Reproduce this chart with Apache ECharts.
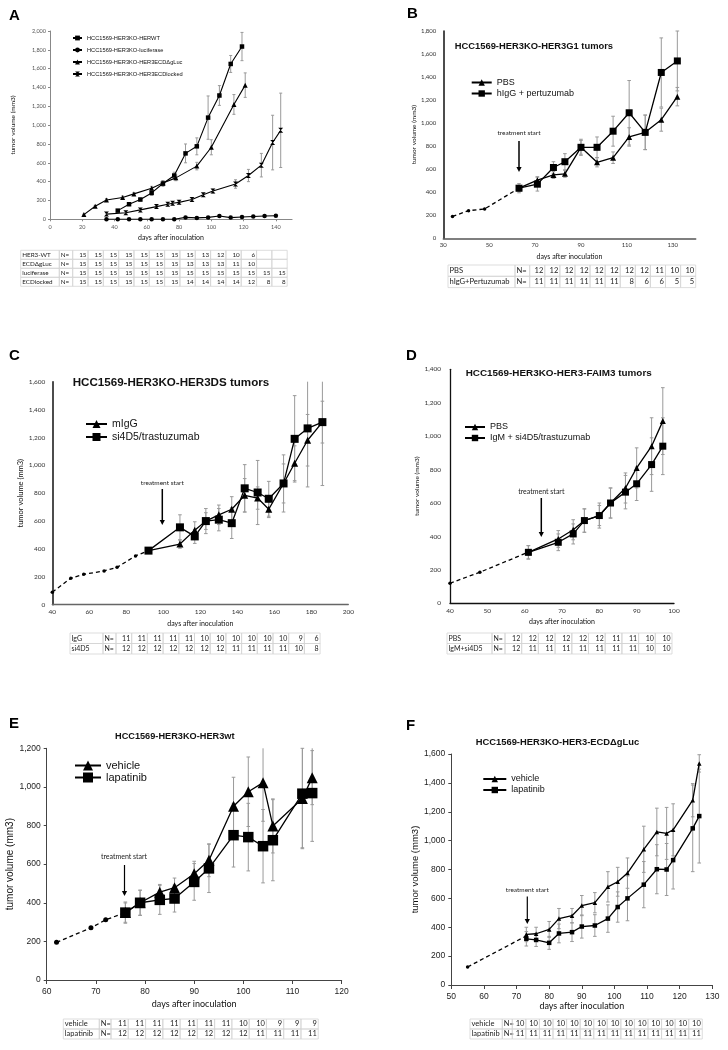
<!DOCTYPE html>
<html><head><meta charset="utf-8">
<script src="https://cdn.jsdelivr.net/npm/echarts@6/dist/echarts.min.js"></script>
<style>html,body{margin:0;padding:0;background:#fff}#c{width:728px;height:1050px}</style>
</head><body><div id="c"></div>
<script>
// ================= DATA =================
// Panel A
const aNames = ['HCC1569-HER3KO-HERWT','HCC1569-HER3KO-luciferase','HCC1569-HER3KO-HER3ECDΔgLuc','HCC1569-HER3KO-HER3ECDlocked'];
const aDaysWT = [42,49,56,63,70,77,84,91,98,105,112,119];
const aWT     = [92,160,210,280,380,465,700,775,1080,1315,1650,1835];
const aWTerr  = [10,15,15,25,30,35,100,90,230,105,90,150];
const aDaysLuc = [35,42,49,56,63,70,77,84,91,98,105,112,119,126,133,140];
const aLuc     = [0,0,0,0,0,0,0,20,15,20,35,18,25,30,35,38];
const aLucErr  = [0,0,0,0,0,0,0,5,5,5,8,5,5,6,6,6];
const aDaysGL = [21,28,35,45,52,63,70,78,91,100,114,121];
const aGL     = [50,138,205,232,270,330,385,440,565,765,1220,1425];
const aGLerr  = [5,10,15,15,15,20,25,30,40,80,105,130];
const aDaysLk = [35,47,56,66,73,76,80,88,95,101,115,123,131,138,143];
const aLk     = [55,70,100,135,160,170,180,210,260,300,375,465,575,815,945];
const aLkErr  = [10,10,10,10,10,10,10,15,15,20,45,65,125,290,395];
const tANames = ['HER3-WT','ECDΔgLuc','luciferase','ECDlocked'];
const tAVals = [
  [15,15,15,15,15,15,15,15,13,12,10,6,'',''],
  [15,15,15,15,15,15,15,13,13,13,11,10,'',''],
  [15,15,15,15,15,15,15,15,15,15,15,15,15,15],
  [15,15,15,15,15,15,15,14,14,14,14,12,8,8]
];
// Panel B
const bNames = ['PBS','hIgG + pertuzumab'];
const bDaysPre = [34,41,48,63];
const bPre     = [190,240,255,435];
const bDays = [63,71,78,83,90,97,104,111,118,125,132];
const bPBS  = [435,505,550,560,790,660,700,880,920,1030,1230];
const bPBSerr = [25,30,30,30,60,40,50,80,150,100,80];
const bIgG  = [435,470,615,665,790,790,930,1090,920,1440,1540];
const bIgGerr = [40,60,50,70,70,90,130,280,150,300,260];
const tBNames = ['PBS','hIgG+Pertuzumab'];
const tBVals = [[12,12,12,12,12,12,12,12,11,10,10],[11,11,11,11,11,11,8,6,6,5,5]];
// Panel C
const cNames = ['mIgG','si4D5/trastuzumab'];
const cDaysPre = [40,50,57,68,75,85,92];
const cPre     = [90,190,218,242,268,350,388];
const cDays = [92,109,117,123,130,137,144,151,157,165,171,178,186];
const cIgG  = [388,435,535,600,645,685,785,765,685,870,1015,1180,1310];
const cIgGerr = [15,30,60,60,70,90,120,80,60,140,125,185,150];
const cSi   = [388,555,490,600,610,585,835,805,760,870,1190,1265,1310];
const cSiErr = [15,90,50,90,80,110,170,230,125,205,310,420,455];
const tCNames = ['IgG','si4D5'];
const tCVals = [[11,11,11,11,11,10,10,10,10,10,10,9,6],[12,12,12,12,12,12,12,11,11,11,11,10,8]];
// Panel D
const dNames = ['PBS','IgM + si4D5/trastuzumab'];
const dDaysPre = [40,48,61];
const dPre     = [120,186,306];
const dDays = [61,69,73,76,80,83,87,90,94,97];
const dPBS  = [305,385,440,495,525,600,690,810,940,1090];
const dPBSerr = [40,50,60,70,75,90,90,120,170,200];
const dIgM  = [305,365,415,495,525,600,665,715,830,940];
const dIgMerr = [40,50,60,70,60,90,100,100,160,170];
const tDNames = ['PBS','IgM+si4D5'];
const tDVals = [[12,12,12,12,12,12,11,11,10,10],[12,11,11,11,11,11,11,11,10,10]];
// Panel E
const eNames = ['vehicle','lapatinib'];
const eDaysPre = [62,69,72,76];
const ePre     = [195,270,312,349];
const eDays = [76,79,83,86,90,93,98,101,104,106,112,114];
const eVeh  = [349,400,455,478,550,620,900,975,1022,798,940,1048];
const eVehErr = [55,65,40,50,65,85,150,180,200,140,260,140];
const eLap  = [349,400,415,422,508,578,750,740,693,724,965,968];
const eLapErr = [50,65,75,70,95,125,165,175,190,210,280,250];
const tENames = ['vehicle','lapatinib'];
const tEVals = [[11,11,11,11,11,11,11,10,10,9,9,9],[12,12,12,12,12,12,12,12,11,11,11,11]];
// Panel F
const fNames = ['vehicle','lapatinib'];
const fDaysPre = [55,73];
const fPre     = [125,340];
const fDays = [73,76,80,83,87,90,94,98,101,104,109,113,116,118,124,126];
const fVeh  = [350,355,385,460,480,550,570,680,715,775,940,1060,1050,1075,1280,1535];
const fVehErr = [50,45,55,70,50,70,70,105,100,105,160,165,180,180,115,60];
const fLap  = [320,312,292,357,366,405,412,460,540,600,695,802,800,865,1085,1170];
const fLapErr = [50,45,45,65,65,80,75,95,105,155,160,170,180,200,300,325];
const tFNames = ['vehicle','lapatinib'];
const tFVals = [[10,10,10,10,10,10,10,10,10,10,10,10,10,10],[11,11,11,11,11,11,11,11,11,11,11,11,11,11]];

// ================= HELPERS =================
const ARIAL = 'Liberation Sans, Arial, sans-serif';
const CAL = 'Lato, Open Sans, sans-serif';
function pts(days, vals){ return days.map((d,i)=>[d, vals[i]]); }
function errData(days, m, e){ return days.map((d,i)=>[d, m[i]-e[i], m[i]+e[i]]); }
function errS(gi, days, m, e, cap){
  return {type:'custom', xAxisIndex:gi, yAxisIndex:gi, silent:true, z:1, animation:false,
    data: errData(days, m, e), encode:{x:0, y:[1,2]},
    renderItem: function(params, api){
      const lo = api.coord([api.value(0), api.value(1)]);
      const hi = api.coord([api.value(0), api.value(2)]);
      const r = params.coordSys;
      const x = lo[0];
      const top = Math.max(hi[1], r.y), bot = Math.min(lo[1], r.y + r.height);
      const st = {stroke:'#9a9a9a', lineWidth:1};
      const ch = [{type:'line', shape:{x1:x,y1:top,x2:x,y2:bot}, style:st}];
      if (hi[1] >= r.y) ch.push({type:'line', shape:{x1:x-cap,y1:top,x2:x+cap,y2:top}, style:st});
      ch.push({type:'line', shape:{x1:x-cap,y1:bot,x2:x+cap,y2:bot}, style:st});
      return {type:'group', children: ch};
    }};
}
function lineS(name, gi, days, vals, symbol, size, w, extra){
  return Object.assign({type:'line', name:name, xAxisIndex:gi, yAxisIndex:gi, data: pts(days, vals),
    symbol:symbol, symbolSize:size, showSymbol:true, z:3, animation:false,
    itemStyle:{color:'#000'}, lineStyle:{color:'#000', width:w}}, extra||{});
}
function preS(gi, days, vals, size){
  return {type:'line', name:'pre'+gi, xAxisIndex:gi, yAxisIndex:gi, data: pts(days, vals), symbol:'circle', symbolSize:size,
    z:2, animation:false, itemStyle:{color:'#000'}, lineStyle:{color:'#000', width:1.3, type:[4,3]}};
}
const CROSS = 'path://M0,0L10,0L0,10L10,10Z';

function xA(gi, min, max, iv, fs, fam, col, lineCol, lw, name, gap, nfs, ticks, hideMax){
  return {type:'value', gridIndex:gi, min:min, max:max, interval:iv,
    name:name, nameLocation:'middle', nameGap:gap, nameTextStyle:{fontSize:nfs, fontFamily:CAL, color:'#111'},
    axisLine:{show:true, lineStyle:{color:lineCol, width:lw}},
    axisTick:{show:ticks>0, length:Math.abs(ticks)||3, inside:false, lineStyle:{color:lineCol}},
    splitLine:{show:false},
    axisLabel:{fontSize:fs, fontFamily:fam, color:col, margin:ticks>0?ticks+3:4, showMaxLabel: !hideMax}};
}
function yA(gi, max, fs, fam, col, lineCol, lw, gap, nfs, nfam, ticks, margin){
  return {type:'value', gridIndex:gi, min:0, max:max, interval:200,
    name:'tumor volume (mm3)', nameLocation:'middle', nameGap:gap, nameTextStyle:{fontSize:nfs, fontFamily:nfam, color:'#111'},
    axisLine:{show:true, lineStyle:{color:lineCol, width:lw}},
    axisTick:{show:ticks>0, length:ticks||3, lineStyle:{color:lineCol}},
    splitLine:{show:false},
    axisLabel:{fontSize:fs, fontFamily:fam, color:col, margin:margin}};
}
function txt(s, x, y, font, align, fill){
  return {type:'text', x:x, y:y, silent:true, style:{text:s, font:font, fill:fill||'#000',
    align:align||'left', verticalAlign:'middle', textAlign:align||'left', textVerticalAlign:'middle'}};
}
function table(x0, top, rowH, nameW, nW, colW, names, vals, fs){
  const els = [];
  const font = fs + 'px ' + CAL;
  const st = {fill:'none', stroke:'#d4d4d4', lineWidth:0.8};
  names.forEach((nm, r)=>{
    const y = top + r*rowH;
    els.push({type:'rect', silent:true, shape:{x:x0, y:y, width:nameW, height:rowH}, style:st});
    els.push(txt(nm, x0+1.5, y+rowH/2, font, 'left', '#222'));
    els.push({type:'rect', silent:true, shape:{x:x0+nameW, y:y, width:nW, height:rowH}, style:st});
    els.push(txt('N=', x0+nameW+1.5, y+rowH/2, font, 'left', '#222'));
    vals[r].forEach((v,c)=>{
      const cx = x0+nameW+nW+c*colW;
      els.push({type:'rect', silent:true, shape:{x:cx, y:y, width:colW, height:rowH}, style:st});
      if (v !== '') els.push(txt(String(v), cx+colW-1.5, y+rowH/2, font, 'right', '#222'));
    });
  });
  return els;
}
function arrow(x, y1, y2, w){
  return [{type:'line', silent:true, shape:{x1:x,y1:y1,x2:x,y2:y2-4}, style:{stroke:'#000', lineWidth:w||1.4}},
    {type:'polygon', silent:true, shape:{points:[[x-2.6,y2-5],[x+2.6,y2-5],[x,y2]]}, style:{fill:'#000'}}];
}

// ================= OPTION =================
const grids = [
  {left:50, top:31, width:242, height:188.3},
  {left:443.3, top:31, width:252.4, height:207.3},
  {left:52.3, top:381.7, width:296, height:223},
  {left:450, top:369.3, width:224, height:234},
  {left:46.7, top:748.3, width:295, height:231.7},
  {left:451.3, top:754, width:261, height:231}
];

const xAxes = [
  xA(0, 0, 150, 20, 5.5, CAL, '#555', '#888', 1.2, 'days after inoculation', 15, 7, 2, true),
  xA(1, 30, 140, 20, 6, CAL, '#333', '#555', 1.5, 'days after inoculation', 15, 7, 0, true),
  xA(2, 40, 200, 20, 6.5, CAL, '#333', '#666', 1.3, 'days after inoculation', 16, 7, 0, false),
  xA(3, 40, 100, 10, 6.5, CAL, '#333', '#111', 1.3, 'days after inoculation', 14.5, 7, 0, false),
  xA(4, 60, 120, 10, 8.5, ARIAL, '#222', '#444', 1, 'days after inoculation', 20, 9, 4, false),
  xA(5, 50, 130, 10, 8.5, ARIAL, '#222', '#444', 1, 'days after inoculation', 15, 9, 4, false)
];
const yAxes = [
  yA(0, 2000, 5.5, CAL, '#555', '#888', 1, 34, 6.5, CAL, 2, 4),
  yA(1, 1800, 6, CAL, '#333', '#111', 1.5, 25, 6.5, CAL, 0, 7),
  yA(2, 1600, 6.5, CAL, '#333', '#111', 1.5, 16, 7.5, CAL, 0, 7),
  yA(3, 1400, 6.5, CAL, '#333', '#111', 1.3, 30, 6.5, CAL, 0, 9),
  yA(4, 1200, 8.5, ARIAL, '#222', '#444', 1, 31, 10, ARIAL, 3, 6),
  yA(5, 1600, 8.5, ARIAL, '#222', '#444', 1, 31, 9.5, ARIAL, 3, 6)
];

const series = [
  // A
  errS(0, aDaysWT, aWT, aWTerr, 1.5), errS(0, aDaysLuc, aLuc, aLucErr, 1.5),
  errS(0, aDaysGL, aGL, aGLerr, 1.5), errS(0, aDaysLk, aLk, aLkErr, 1.5),
  lineS(aNames[0], 0, aDaysWT, aWT, 'rect', 4.5, 1.1),
  lineS(aNames[1], 0, aDaysLuc, aLuc, 'circle', 4.5, 1.1),
  lineS(aNames[2], 0, aDaysGL, aGL, 'triangle', 5, 1.1),
  lineS(aNames[3], 0, aDaysLk, aLk, CROSS, 5, 1.1),
  // B
  preS(1, bDaysPre, bPre, 3.5),
  errS(1, bDays, bPBS, bPBSerr, 1.8), errS(1, bDays, bIgG, bIgGerr, 1.8),
  lineS(bNames[0], 1, bDays, bPBS, 'triangle', 6, 1.3),
  lineS(bNames[1], 1, bDays, bIgG, 'rect', 7, 1.3),
  // C
  preS(2, cDaysPre, cPre, 3.5),
  errS(2, cDays, cIgG, cIgGerr, 1.8), errS(2, cDays, cSi, cSiErr, 1.8),
  lineS(cNames[0], 2, cDays, cIgG, 'triangle', 7, 1.3),
  lineS(cNames[1], 2, cDays, cSi, 'rect', 8, 1.3),
  // D
  preS(3, dDaysPre, dPre, 3.5),
  errS(3, dDays, dPBS, dPBSerr, 1.8), errS(3, dDays, dIgM, dIgMerr, 1.8),
  lineS(dNames[0], 3, dDays, dPBS, 'triangle', 6, 1.3),
  lineS(dNames[1], 3, dDays, dIgM, 'rect', 7, 1.3),
  // E
  preS(4, eDaysPre, ePre, 5),
  errS(4, eDays, eVeh, eVehErr, 1.8), errS(4, eDays, eLap, eLapErr, 1.8),
  lineS(eNames[0], 4, eDays, eVeh, 'triangle', 11, 1.3),
  lineS(eNames[1], 4, eDays, eLap, 'rect', 10.5, 1.3),
  // F
  preS(5, fDaysPre, fPre, 3.5),
  errS(5, fDays, fVeh, fVehErr, 1.8), errS(5, fDays, fLap, fLapErr, 1.8),
  lineS(fNames[0], 5, fDays, fVeh, 'triangle', 4.5, 1.3),
  lineS(fNames[1], 5, fDays, fLap, 'rect', 4.5, 1.3)
];

const legends = [
  {data: aNames, left:72, top:34.5, orient:'vertical', itemWidth:9, itemHeight:6, itemGap:5,
   textStyle:{fontSize:5.7, fontFamily:ARIAL, color:'#111', lineHeight:7}},
  {data: bNames, left:470.7, top:78, orient:'vertical', itemWidth:20, itemHeight:8, itemGap:2,
   textStyle:{fontSize:9, fontFamily:ARIAL, color:'#111', lineHeight:9}},
  {data: cNames, left:85, top:418.5, orient:'vertical', itemWidth:21, itemHeight:10, itemGap:2,
   textStyle:{fontSize:10.5, fontFamily:ARIAL, color:'#111', lineHeight:11}},
  {data: dNames, left:464, top:422.5, orient:'vertical', itemWidth:20, itemHeight:8, itemGap:2,
   textStyle:{fontSize:9, fontFamily:ARIAL, color:'#111', lineHeight:8.5}},
  {data: eNames, left:74, top:759.5, orient:'vertical', itemWidth:26, itemHeight:12.5, itemGap:0,
   textStyle:{fontSize:11, fontFamily:ARIAL, color:'#111', lineHeight:12}},
  {data: fNames, left:482.3, top:774.5, orient:'vertical', itemWidth:23, itemHeight:8, itemGap:2,
   textStyle:{fontSize:9, fontFamily:ARIAL, color:'#111', lineHeight:8}}
].map(l => Object.assign({padding:0, selectedMode:false}, l));

const titles = [
  {text:'A', left:9, top:8}, {text:'B', left:407, top:6}, {text:'C', left:9, top:348},
  {text:'D', left:406, top:348}, {text:'E', left:9, top:716}, {text:'F', left:406, top:718}
].map(t => Object.assign({padding:0, textStyle:{fontSize:15, fontWeight:'bold', fontFamily:ARIAL, color:'#000'}}, t))
.concat([
  {text:'HCC1569-HER3KO-HER3G1 tumors', left:454.7, top:41.5, fs:9.4},
  {text:'HCC1569-HER3KO-HER3DS tumors', left:72.7, top:376.5, fs:11.6},
  {text:'HCC1569-HER3KO-HER3-FAIM3 tumors', left:465.7, top:368.3, fs:9.9},
  {text:'HCC1569-HER3KO-HER3wt', left:115, top:732, fs:9.2},
  {text:'HCC1569-HER3KO-HER3-ECDΔgLuc', left:475.7, top:737.5, fs:9.4}
].map(t => ({text:t.text, left:t.left, top:t.top, padding:0,
  textStyle:{fontSize:t.fs, fontWeight:'bold', fontFamily:ARIAL, color:'#111'}})));

const graphics = [].concat(
  table(20.7, 250.3, 9, 38.6, 13.4, 15.32, tANames, tAVals, 6.3),
  table(448, 265, 11.3, 67, 14.7, 15.09, tBNames, tBVals, 7.6),
  table(70, 633, 10.5, 33, 13, 15.7, tCNames, tCVals, 7),
  table(447, 633, 10.5, 45, 13, 16.7, tDNames, tDVals, 7),
  table(63.3, 1019, 10, 36, 11.7, 17.27, tENames, tEVals, 7.5),
  table(470, 1019, 10, 32.3, 10, 13.57, tFNames, tFVals, 7.5),
  [txt('treatment start', 519, 133.3, '6.5px ' + CAL, 'center', '#222')], arrow(519, 141, 172, 1.5),
  [txt('treatment start', 162.3, 482.7, '6.5px ' + CAL, 'center', '#222')], arrow(162.3, 489, 525, 1.5),
  [txt('treatment start', 541.3, 491.7, '7px ' + CAL, 'center', '#222')], arrow(541.3, 498, 537, 1.5),
  [txt('treatment start', 124, 856.7, '7px ' + CAL, 'center', '#222')], arrow(124.5, 865, 896, 1.2),
  [txt('treatment start', 527.3, 890, '6.5px ' + CAL, 'center', '#222')], arrow(527.3, 896.5, 924, 1.2)
);

const chart = echarts.init(document.getElementById('c'), null, {renderer:'canvas'});
chart.setOption({
  backgroundColor:'#fff', animation:false,
  title: titles, legend: legends, grid: grids, xAxis: xAxes, yAxis: yAxes, series: series,
  graphic: {elements: graphics}
});
</script></body></html>
